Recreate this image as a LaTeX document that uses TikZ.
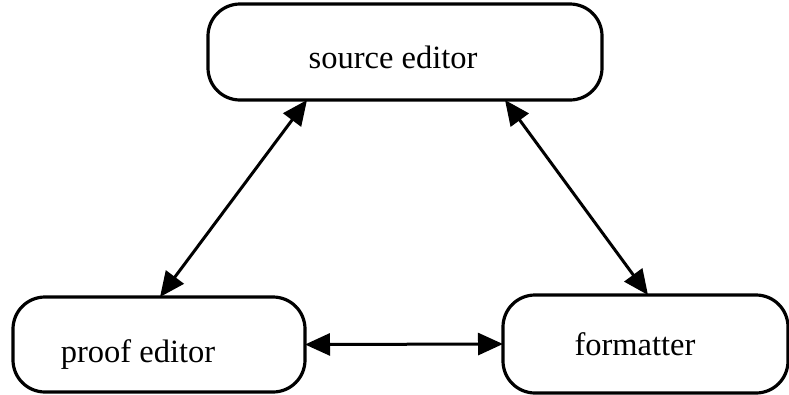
\documentclass[tikz,border=0pt]{standalone}
\usepackage{fontspec}
\setmainfont{Liberation Serif}
\usetikzlibrary{arrows.meta,calc}
\begin{document}
\begin{tikzpicture}[x=1pt,y=-1pt,
  box/.style={draw=black,line width=3.2pt,rounded corners=32pt,inner sep=0pt,outer sep=0pt,rectangle},
  lbl/.style={font=\fontsize{32.5}{38}\selectfont,inner sep=0pt,anchor=base},
  link/.style={line width=3pt,{Triangle[length=25pt,width=22pt]}-{Triangle[length=25pt,width=22pt]}}]
\useasboundingbox (0,0) rectangle (789,394);
\node[box,minimum width=394pt,minimum height=96pt] (src) at (405,52) {};
\node[box,minimum width=292pt,minimum height=95pt] (proof) at (159,344.5) {};
\node[box,minimum width=285pt,minimum height=98pt] (fmt) at (645.5,344) {};
\node[lbl] (srct) at (393,68) {source editor};
\node[lbl] (prooft) at (138,362) {proof editor};
\node[lbl] (fmtt) at (635,355) {formatter};
\coordinate (a1s) at ($(src.south west)+(99,0)$);
\coordinate (a1e) at ($(proof.north west)+(147,0)$);
\coordinate (a2s) at ($(src.south west)+(297,0)$);
\coordinate (a2e) at ($(fmt.north west)+(145,0)$);
\draw[link] (a1s) -- (a1e);
\draw[link] (a2s) -- (a2e);
\draw[link] (proof.east) -- (fmt.west);
\end{tikzpicture}
\end{document}
